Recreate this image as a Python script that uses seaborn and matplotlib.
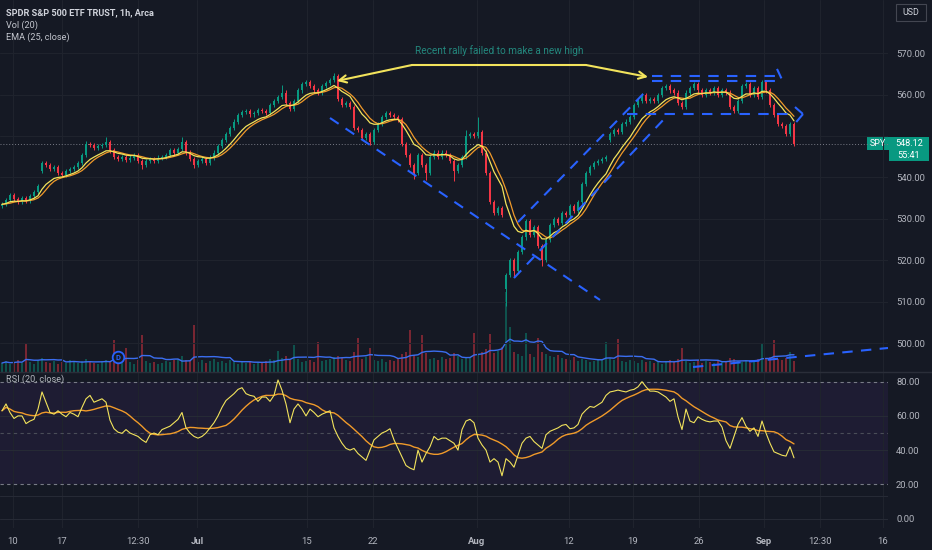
import numpy as np
import pandas as pd
import matplotlib
matplotlib.use("Agg")
import matplotlib.pyplot as plt
from matplotlib.patches import Rectangle
from matplotlib.lines import Line2D
from matplotlib.ticker import FuncFormatter
import seaborn as sns

# hourly SPY closes (one value per ~3 hourly bars)
close = [
    533.5, 534.5, 535.8, 534.8, 534.0, 535.0, 534.2, 535.5, 536.5, 538.0,
    543.5, 543.0, 542.0, 542.5, 541.0, 540.5, 541.5, 542.0, 542.5, 543.5,
    545.5, 548.0, 547.8, 547.2, 547.5, 547.8, 548.5, 546.5, 545.0, 544.5,
    545.0, 544.3, 544.8, 545.5, 544.0, 543.0, 544.0, 544.5, 544.0, 544.8,
    545.0, 545.5, 546.5, 546.0, 546.8, 548.5, 546.0, 544.5, 543.0, 544.0,
    544.5, 543.5, 544.8, 546.0, 547.5, 549.0, 550.5, 552.0, 553.5, 555.0,
    555.8, 556.0, 555.2, 555.5, 556.3, 556.0, 555.5, 557.5, 558.5, 559.5,
    560.5, 558.0, 556.5, 558.5, 561.0, 562.5, 563.0, 562.0, 561.0, 560.5,
    562.0, 562.8, 563.5, 564.5, 559.0, 557.5, 558.0, 557.0, 552.0, 551.5,
    549.5, 550.5, 548.5, 551.5, 553.0, 554.5, 555.5, 555.0, 554.5, 554.0,
    548.0, 545.5, 543.0, 541.0, 545.5, 543.0, 541.0, 545.0, 546.0, 545.0,
    546.0, 545.5, 544.0, 541.5, 543.0, 545.0, 550.0, 550.5, 550.0, 551.0,
    546.0, 541.0, 534.0, 531.5, 532.5, 531.0, 516.5, 520.0, 517.5, 522.0,
    525.5, 529.5, 526.0, 528.0, 523.5, 520.0, 525.0, 528.5, 530.0, 529.0,
    531.5, 531.0, 533.0, 532.0, 534.0, 538.5, 541.0, 542.5, 543.5, 544.0,
    544.5, 545.0, 550.5, 551.5, 551.0, 553.0, 553.5, 554.5, 557.5, 558.5,
    560.0, 558.5, 559.0, 558.5, 560.0, 561.5, 562.0, 561.0, 560.5, 558.0,
    557.0, 560.5, 561.5, 562.5, 561.0, 560.0, 561.0, 560.5, 561.5, 560.0,
    561.0, 560.5, 557.0, 556.0, 558.5, 562.0, 562.5, 560.0, 561.5, 559.5,
    563.0, 561.0, 557.5, 555.0, 553.0, 552.5, 550.5, 553.0, 548.12,
]
first_open = 533.0
gap_open = {10: 541.5, 126: 513.0, 152: 549.0}
high_fix = {21: 548.8, 26: 549.8, 45: 549.8, 70: 562.3, 83: 565.2, 116: 551.4, 119: 554.6}
low_fix = {35: 542.0, 48: 542.2, 92: 547.8, 103: 539.5, 106: 539.3, 113: 539.2,
           126: 509.0, 128: 516.0, 135: 518.5, 198: 547.6}

volume = [
    9, 11, 8, 10, 12, 9, 29, 10, 8, 12,
    14, 10, 9, 11, 8, 10, 9, 12, 10, 9,
    11, 13, 10, 9, 8, 11, 12, 10, 32, 11,
    9, 24, 10, 8, 12, 37, 11, 9, 10, 8,
    9, 11, 10, 12, 13, 16, 12, 11, 47, 10,
    12, 9, 11, 13, 10, 11, 9, 12, 10, 8,
    10, 9, 11, 8, 10, 9, 11, 13, 12, 21,
    14, 16, 12, 27, 13, 10, 11, 12, 10, 30,
    11, 12, 13, 15, 16, 14, 12, 11, 20, 34,
    13, 15, 24, 12, 11, 13, 10, 12, 11, 14,
    18, 20, 42, 17, 15, 37, 19, 13, 14, 12,
    15, 13, 14, 19, 16, 13, 15, 14, 39, 18,
    20, 23, 38, 19, 21, 25, 80, 45, 20, 18,
    16, 39, 18, 15, 34, 20, 18, 16, 15, 17,
    14, 13, 12, 15, 11, 13, 12, 10, 11, 12,
    13, 30, 14, 12, 33, 11, 10, 12, 11, 9,
    12, 10, 11, 9, 10, 8, 11, 12, 10, 13,
    24, 11, 9, 10, 12, 9, 11, 10, 9, 12,
    10, 11, 14, 13, 11, 10, 12, 9, 11, 13,
    28, 14, 15, 32, 13, 12, 14, 20, 11,
]

rsi = [
    63, 67, 62, 58.5, 60, 60, 55.5, 57, 58, 64,
    74, 68, 62, 61, 63, 61, 59.5, 62, 61, 59.5,
    65, 70, 72, 68, 69, 70, 68, 57.5, 52.5, 50.5,
    49.8, 52, 50, 49, 48, 46, 44.5, 49, 50, 49,
    52, 53, 54, 56, 58, 62, 53, 50, 48, 47,
    48, 50, 53, 56, 60, 65, 69, 71, 73, 75.5,
    76.5, 73, 72, 71.5, 68.5, 71, 71, 68.5, 72, 81,
    75, 67, 56, 64, 67, 64, 60, 64, 62, 59.5,
    61, 62, 63, 53, 48, 44, 41, 40, 41, 38,
    36, 34, 40, 46, 48, 50, 51, 52.5, 46, 41,
    36, 31, 29.5, 28.5, 40, 33, 38, 42, 48, 46,
    47, 47, 45.5, 44, 40, 52, 57, 58, 56, 47,
    43, 40, 33, 35, 33, 25, 35, 33, 30, 37,
    44, 47, 48, 45, 43, 41, 49, 51, 52, 53,
    54.5, 55, 52.5, 53, 55, 61, 63.5, 65.5, 65, 66.5,
    68, 72, 74, 74.5, 75.1, 74.5, 74, 75, 75.5, 77,
    80, 77, 74.5, 74.5, 74, 72.5, 71, 68.5, 70, 59.5,
    52, 64, 57, 56, 59.5, 58, 57, 56.5, 57, 57,
    53.5, 45.5, 41, 48, 55, 59, 54, 51, 53, 48,
    57, 50, 44, 39, 38, 37, 36.5, 42, 35.5,
]

tick_pos = [2.75, 15, 34, 48.75, 76.25, 92.75, 118.75, 141.75, 157.75, 174.25, 190.5, 204.5, 220.25]
tick_labels = ["10", "17", "12:30", "Jul", "15", "22", "Aug", "12", "19", "26", "Sep", "12:30", "16"]
bold_labels = {"Jul", "Aug", "Sep"}
price_ticks = [500, 510, 520, 530, 540, 560, 570]
rsi_ticks = [0, 20, 40, 60, 80]

# drawings on the chart, in (bar, price)
blue_lines = [
    [(82, 554.35), (149.5, 510.4)],
    [(129, 529.2), (160.75, 560.6)],
    [(128, 515.7), (166.5, 555.1)],
    [(162.5, 564.5), (193.5, 564.5)],
    [(162.5, 563.3), (194.5, 563.3)],
    [(193.75, 566.2), (195.25, 563.1)],
    [(156.25, 555.3), (198.25, 555.3)],
    [(198.25, 557.0), (200.25, 555.3)],
    [(200.25, 555.3), (198.5, 553.3)],
    [(172.75, 494.2), (221.5, 498.8)],
]
note_text = "Recent rally failed to make a new high"
note_xy = (124.25, 569.3)
underline = [(102.5, 567.15), (146, 567.15)]
arrow_left = ((102.5, 567.15), (83.75, 563.3))
arrow_right = ((146, 567.15), (161.5, 564.25))

BG = "#151924"
GRID = "#1f232d"
TXT = "#b2b5be"
UP = "#089981"
DOWN = "#f23645"
YEL = "#f2e35c"
ORG = "#f09a2a"
BLUE = "#2962ff"

df = pd.DataFrame({"bar": np.arange(len(close)), "close": close, "volume": volume, "rsi": rsi})
df["open"] = df["close"].shift(1).fillna(first_open)
for k, v in gap_open.items():
    df.loc[k, "open"] = v
df["high"] = df[["open", "close"]].max(axis=1) + 0.5
df["low"] = df[["open", "close"]].min(axis=1) - 0.5
for k, v in high_fix.items():
    df.loc[k, "high"] = v
for k, v in low_fix.items():
    df.loc[k, "low"] = v
df["ema"] = df["close"].ewm(span=9, adjust=False).mean()
df["ema_smooth"] = df["ema"].rolling(3, min_periods=1).mean()
df["vol_ma"] = df["volume"].rolling(10, min_periods=1).mean()
df["rsi_ma"] = df["rsi"].rolling(11, min_periods=1).mean()
up = df["close"] >= df["open"]
cols = np.where(up, UP, DOWN)

sns.set_theme(style="dark", rc={"axes.facecolor": BG, "figure.facecolor": BG})
plt.rcParams["font.family"] = ["Roboto", "DejaVu Sans"]

W, H = 932, 550
fig = plt.figure(figsize=(W / 100, H / 100), dpi=100)
main_rect = [0, 1 - 372 / H, 888 / W, 372 / H]
ax_vol = fig.add_axes(main_rect, zorder=0)
ax = fig.add_axes(main_rect, zorder=1, sharex=ax_vol)
ax_rsi = fig.add_axes([0, 1 - 528 / H, 888 / W, 156 / H], zorder=1, sharex=ax_vol)
ax.patch.set_visible(False)

xlim = (-0.5, 221.5)

# volume
ax_vol.bar(df["bar"], df["volume"], width=0.7, color=cols, alpha=0.45, linewidth=0)
sns.lineplot(data=df, x="bar", y="vol_ma", ax=ax_vol, color="#3b6ef0", lw=1.0, legend=False)
ax_vol.set_ylim(0, 372)
ax_vol.set_xlim(*xlim)
ax_vol.set_axis_off()
ax_vol.scatter([29], [15], s=70, facecolor=BG, edgecolor=BLUE, linewidth=1.3, zorder=5)
ax_vol.text(29, 15, "D", color=BLUE, fontsize=5.5, ha="center", va="center", zorder=6, fontweight="bold")

# candles
body = (df["close"] - df["open"]).where(lambda s: s.abs() > 0.15, 0.15)
ax.vlines(df["bar"], df["low"], df["high"], colors=cols, lw=0.7, zorder=3)
ax.bar(df["bar"], body, bottom=df["open"], width=0.62, color=cols, linewidth=0, zorder=3)
sns.lineplot(data=df, x="bar", y="ema_smooth", ax=ax, color=ORG, lw=0.9, legend=False, zorder=4)
sns.lineplot(data=df, x="bar", y="ema", ax=ax, color=YEL, lw=0.9, legend=False, zorder=4)
ax.axhline(close[-1], color="#787b86", lw=0.7, ls=(0, (1, 2)), zorder=2)

for seg in blue_lines:
    xs, ys = zip(*seg)
    ax.plot(xs, ys, color=BLUE, lw=1.5, dashes=(5, 4), zorder=5)

ax.plot(*zip(*underline), color=YEL, lw=1.5, zorder=6)
for start, tip in (arrow_left, arrow_right):
    ax.annotate("", xy=tip, xytext=start,
                arrowprops=dict(arrowstyle="->", color=YEL, lw=1.5, mutation_scale=13,
                                shrinkA=0, shrinkB=0), zorder=6)
ax.text(*note_xy, note_text, color="#23877d", fontsize=7.2, ha="center", va="bottom", zorder=6)

ax.set_xlim(*xlim)
ax.set_ylim(493.0, 582.85)
ax.set_yticks(price_ticks)
ax.yaxis.set_major_formatter(FuncFormatter(lambda v, p: f"{v:.2f}"))
ax.yaxis.tick_right()
ax.set_xticks(tick_pos)
ax.tick_params(axis="y", length=0, pad=5.8, labelsize=6.8, labelcolor=TXT)
ax.tick_params(axis="x", length=0, labelbottom=False)
ax.grid(True, color=GRID, lw=0.8)
ax.axhline(550, color=GRID, lw=0.8, zorder=0)
ax.set_xlabel("")
ax.set_ylabel("")
for s in ax.spines.values():
    s.set_visible(False)

# RSI pane
ax_rsi.set_facecolor(BG)
ax_rsi.axhspan(20, 80, color="#1e1c33", zorder=0, lw=0)
for lvl in (0, 40, 60):
    ax_rsi.axhline(lvl, color="#262a35", lw=0.8, zorder=1)
ax_rsi.axhline(13.2, color="#262a35", lw=0.8, zorder=1)
for lvl, c in ((80, "#787b86"), (50, "#4a4d58"), (20, "#787b86")):
    ax_rsi.axhline(lvl, color=c, lw=0.8, dashes=(3, 3), zorder=2)
sns.lineplot(data=df, x="bar", y="rsi_ma", ax=ax_rsi, color=ORG, lw=1.0, legend=False, zorder=3)
sns.lineplot(data=df, x="bar", y="rsi", ax=ax_rsi, color=YEL, lw=0.8, legend=False, zorder=4)
ax_rsi.set_xlim(*xlim)
ax_rsi.set_ylim(-5.54, 85.67)
ax_rsi.set_yticks(rsi_ticks)
ax_rsi.yaxis.set_major_formatter(FuncFormatter(lambda v, p: f"{v:.2f}"))
ax_rsi.yaxis.tick_right()
ax_rsi.set_xticks(tick_pos)
ax_rsi.set_xticklabels(tick_labels)
for lab in ax_rsi.get_xticklabels():
    if lab.get_text() in bold_labels:
        lab.set_fontweight("bold")
ax_rsi.tick_params(axis="y", length=0, pad=5.8, labelsize=6.8, labelcolor=TXT)
ax_rsi.tick_params(axis="x", length=0, pad=6.2, labelsize=6.8, labelcolor=TXT)
ax_rsi.grid(False)
ax_rsi.grid(True, axis="x", color=GRID, lw=0.8)
ax_rsi.set_xlabel("")
ax_rsi.set_ylabel("")
for s in ax_rsi.spines.values():
    s.set_visible(False)

# pane separator
fig.add_artist(Line2D([0, 1], [1 - 372 / H] * 2, transform=fig.transFigure, color="#2a2e39", lw=1))

# legend texts
fig.text(6 / W, 1 - 12.5 / H, "SPDR S&P 500 ETF TRUST, 1h, Arca", color="#d1d4dc",
         fontsize=6.6, fontweight="semibold", va="center")
fig.text(6 / W, 1 - 25 / H, "Vol (20)", color="#c3c6ce", fontsize=6.6, va="center")
fig.text(6 / W, 1 - 37 / H, "EMA (25, close)", color="#c3c6ce", fontsize=6.6, va="center")
fig.text(6 / W, 1 - 379 / H, "RSI (20, close)", color="#b2b5be", fontsize=6.6, va="center")

# USD box
fig.add_artist(Rectangle((896 / W, 1 - 21 / H), 30 / W, 17 / H, transform=fig.transFigure,
                         facecolor=BG, edgecolor="#434651", lw=0.8))
fig.text(911 / W, 1 - 12.5 / H, "USD", color="#d1d4dc", fontsize=6.4, ha="center", va="center")

# last price label
fig.canvas.draw()
yc = ax.transData.transform((0, close[-1]))[1]
fig.add_artist(Rectangle((867 / W, (yc - 6.5) / H), 22 / W, 13 / H, transform=fig.transFigure,
                         facecolor=UP, edgecolor="none"))
fig.add_artist(Rectangle((889 / W, (yc - 17.5) / H), 40 / W, 24 / H, transform=fig.transFigure,
                         facecolor=UP, edgecolor="none"))
fig.text(878 / W, yc / H, "SPY", color="white", fontsize=6.4, ha="center", va="center")
fig.text(909 / W, yc / H, f"{close[-1]:.2f}", color="white", fontsize=6.6, ha="center", va="center")
fig.text(909 / W, (yc - 11.5) / H, "55:41", color="white", fontsize=6.6, ha="center", va="center")

fig.savefig("out.png", dpi=100, facecolor=BG)
